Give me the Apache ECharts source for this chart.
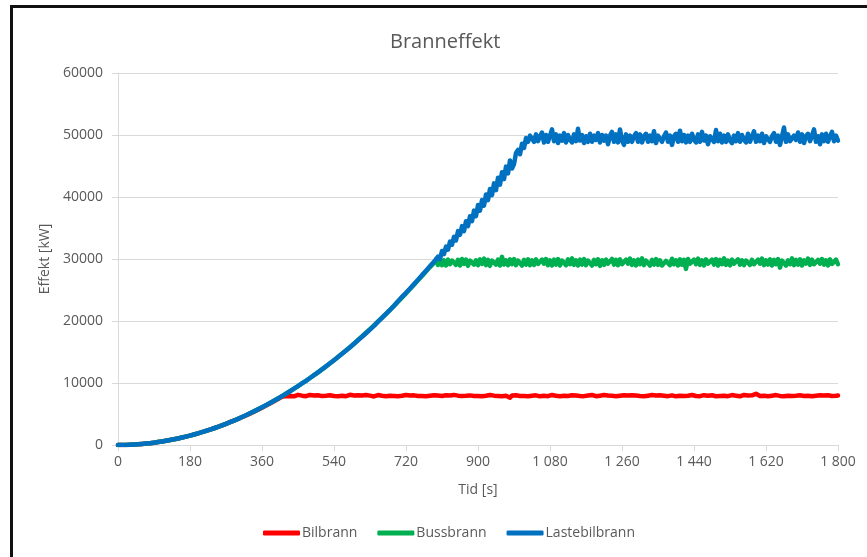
<!DOCTYPE html>
<html>
<head>
<meta charset="utf-8">
<title>Branneffekt</title>
<script src="https://cdn.jsdelivr.net/npm/echarts@6/dist/echarts.min.js"></script>
<style>
  html, body { margin: 0; padding: 0; background: #ffffff; }
  #wrap { position: relative; width: 867px; height: 557px; overflow: hidden; }
  #chart { position: absolute; left: 0; top: 0; width: 867px; height: 557px; }
  #frame {
    position: absolute; left: 10px; top: 5px; width: 900px; height: 600px;
    border-left: 3px solid #111; border-top: 3px solid #111; pointer-events: none;
  }
</style>
</head>
<body>
<div id="wrap">
  <div id="chart"></div>
  <div id="frame"></div>
</div>
<script>
// Sample times [s]
const timeS = [
  0, 5, 10, 15, 20, 25, 30, 35, 40, 45, 50, 55, 60, 65, 70, 75, 80, 85, 90, 95,
  100, 105, 110, 115, 120, 125, 130, 135, 140, 145, 150, 155, 160, 165, 170, 175, 180, 185, 190, 195,
  200, 205, 210, 215, 220, 225, 230, 235, 240, 245, 250, 255, 260, 265, 270, 275, 280, 285, 290, 295,
  300, 305, 310, 315, 320, 325, 330, 335, 340, 345, 350, 355, 360, 365, 370, 375, 380, 385, 390, 395,
  400, 405, 410, 415, 420, 425, 430, 435, 440, 445, 450, 455, 460, 465, 470, 475, 480, 485, 490, 495,
  500, 505, 510, 515, 520, 525, 530, 535, 540, 545, 550, 555, 560, 565, 570, 575, 580, 585, 590, 595,
  600, 605, 610, 615, 620, 625, 630, 635, 640, 645, 650, 655, 660, 665, 670, 675, 680, 685, 690, 695,
  700, 705, 710, 715, 720, 725, 730, 735, 740, 745, 750, 755, 760, 765, 770, 775, 780, 785, 790, 795,
  800, 805, 810, 815, 820, 825, 830, 835, 840, 845, 850, 855, 860, 865, 870, 875, 880, 885, 890, 895,
  900, 905, 910, 915, 920, 925, 930, 935, 940, 945, 950, 955, 960, 965, 970, 975, 980, 985, 990, 995,
  1000, 1005, 1010, 1015, 1020, 1025, 1030, 1035, 1040, 1045, 1050, 1055, 1060, 1065, 1070, 1075, 1080, 1085, 1090, 1095,
  1100, 1105, 1110, 1115, 1120, 1125, 1130, 1135, 1140, 1145, 1150, 1155, 1160, 1165, 1170, 1175, 1180, 1185, 1190, 1195,
  1200, 1205, 1210, 1215, 1220, 1225, 1230, 1235, 1240, 1245, 1250, 1255, 1260, 1265, 1270, 1275, 1280, 1285, 1290, 1295,
  1300, 1305, 1310, 1315, 1320, 1325, 1330, 1335, 1340, 1345, 1350, 1355, 1360, 1365, 1370, 1375, 1380, 1385, 1390, 1395,
  1400, 1405, 1410, 1415, 1420, 1425, 1430, 1435, 1440, 1445, 1450, 1455, 1460, 1465, 1470, 1475, 1480, 1485, 1490, 1495,
  1500, 1505, 1510, 1515, 1520, 1525, 1530, 1535, 1540, 1545, 1550, 1555, 1560, 1565, 1570, 1575, 1580, 1585, 1590, 1595,
  1600, 1605, 1610, 1615, 1620, 1625, 1630, 1635, 1640, 1645, 1650, 1655, 1660, 1665, 1670, 1675, 1680, 1685, 1690, 1695,
  1700, 1705, 1710, 1715, 1720, 1725, 1730, 1735, 1740, 1745, 1750, 1755, 1760, 1765, 1770, 1775, 1780, 1785, 1790, 1795,
  1800
];

// Bilbrann heat release rate [kW]
const bilbrannKW = [
  0, 1, 5, 11, 19, 29, 42, 57, 75, 95,
  117, 142, 169, 198, 230, 264, 300, 339, 380, 423,
  469, 517, 567, 620, 675, 733, 793, 855, 919, 986,
  1055, 1127, 1201, 1277, 1355, 1436, 1520, 1605, 1693, 1783,
  1876, 1971, 2068, 2168, 2270, 2374, 2481, 2590, 2701, 2815,
  2931, 3050, 3170, 3294, 3419, 3547, 3677, 3810, 3944, 4081,
  4190, 4380, 4470, 4680, 4760, 4980, 5060, 5290, 5370, 5610,
  5690, 5930, 6020, 6270, 6360, 6610, 6700, 6970, 7060, 7330,
  7430, 7680, 7780,
  7990, 7880, 8060, 7920, 8010, 7850, 7970, 8090, 7900, 7960,
  8030, 7870, 7940, 8080, 7910, 7990, 7840, 8020, 7950, 7890,
  8070, 7930, 7860, 8010, 7960, 7900, 8050, 7880, 7990, 7930,
  8040, 7870, 7950, 8100, 7920, 7980, 7860, 8030, 7910, 7990,
  7940, 8060, 7890, 7960, 8020, 7830, 7970, 8050, 7900, 7940,
  8010, 7880, 7560, 7960, 8040, 7910, 7990, 7860, 8030, 7940,
  7900, 8070, 7930, 7980, 7850, 8010, 7960, 7890, 8050, 7920,
  7980, 7870, 8040, 7950, 7900, 8020, 7860, 7970, 8060, 7910,
  7950, 8030, 7880, 7990, 7920, 8080, 7860, 7960, 8010, 7900,
  8040, 7930, 7870, 8000, 7950, 7890, 8060, 7920, 7980, 7850,
  8010, 7940, 7900, 8070, 7880, 7960, 8030, 7910, 7990, 7870,
  8050, 7930, 7960, 7620, 7990, 7880, 8020, 7950, 7900, 8060,
  7920, 7980, 7860, 8030, 7940, 7890, 8010, 7970, 7850, 8040,
  7930, 8000, 7880, 7960, 8070, 7910, 7950, 8020, 7870, 7990,
  7940, 8050, 7900, 7960, 8010, 7860, 7980, 8040, 7920, 7950,
  7880, 8030, 7970, 7900, 8060, 7940, 7870, 8000, 7960, 7910,
  8050, 7890, 7980, 8230, 7930, 7960, 7870, 8020, 7950, 7900,
  8040, 7920, 7990, 7860, 8010, 7940, 7970, 8080, 7900, 7950,
  7880, 8030, 7960, 7910, 8050, 7870, 7990, 7940, 8020, 7900,
  7960, 8060, 7880, 7970, 8010, 7920, 7850, 8040, 7950, 7990,
  7900, 8030, 7940, 7870, 8070, 7960, 7910, 8000, 7880, 7980,
  8040, 7930, 7960, 7890, 8020, 7950, 7870, 8060, 7920, 7990,
  7940, 8010, 7880, 7970, 8050, 7900, 7960, 8030, 7860, 7950,
  8080, 7920, 7990, 7870, 8020, 7940, 8260, 7960, 7900, 8040,
  7930, 7980, 7860, 8010, 7950, 7890, 8050, 7970, 7920, 8000,
  7870, 8060, 7940, 7990, 7900, 8030, 7950, 7880, 8020, 7960,
  7910, 8070, 7940, 7980, 7860, 8010, 7950, 7900, 8040, 7930,
  7990, 7870, 8030, 7950, 7910, 8060, 7940, 7980
];

// Bussbrann heat release rate [kW]
const bussbrannKW = [
  0, 1, 5, 11, 19, 29, 42, 57, 75, 95,
  117, 142, 169, 198, 230, 264, 300, 339, 380, 423,
  469, 517, 567, 620, 675, 733, 793, 855, 919, 986,
  1055, 1127, 1201, 1277, 1355, 1436, 1520, 1605, 1693, 1783,
  1876, 1971, 2068, 2168, 2270, 2374, 2481, 2590, 2701, 2815,
  2931, 3050, 3170, 3294, 3419, 3547, 3677, 3810, 3944, 4081,
  4221, 4363, 4507, 4654, 4803, 4954, 5107, 5263, 5422, 5582,
  5745, 5911, 6078, 6248, 6421, 6595, 6772, 6952, 7134, 7318,
  7504, 7693, 7884, 8077, 8273, 8471, 8672, 8874, 9080, 9287,
  9497, 9709, 9924, 10141, 10360, 10582, 10806, 11032, 11261, 11492,
  11725, 11961, 12199, 12439, 12682, 12927, 13174, 13424, 13676, 13930,
  14187, 14446, 14708, 14972, 15238, 15507, 15777, 16051, 16326, 16604,
  16950, 17100, 17520, 17680, 18110, 18250, 18700, 18840, 19300, 19430,
  19900, 20040, 20530, 20660, 21160, 21280, 21800, 21900, 22450, 22550,
  23120, 23200, 23780, 23850, 24460, 24520, 25150, 25200, 25850, 25900,
  26560, 26600, 27250, 27300, 27980, 28050, 28700, 28750, 29350,
  29900, 29050, 29950, 29000, 29800, 28950, 29900, 29150, 29750, 30050,
  29050, 29850, 28950, 30000, 29200, 29900, 28900, 29750, 29950, 29100,
  29800, 29000, 29950, 29200, 30050, 29000, 29850, 28900, 29750, 29950,
  29100, 29900, 28950, 30350, 29100, 29800, 29000, 29950, 29150, 30000,
  29000, 29750, 29900, 28950, 29850, 29100, 29950, 29000, 29800, 29050,
  29950, 29200, 28900, 29900, 29250, 30000, 29000, 29800, 28950, 29900,
  29100, 30000, 28950, 29750, 29850, 29000, 29950, 29150, 30100, 29050,
  29800, 28950, 29900, 29100, 30000, 29000, 29750, 29950, 28950, 29850,
  29150, 29950, 28900, 29800, 29050, 29900, 29250, 28950, 30000, 29100,
  29850, 29000, 29950, 29150, 28950, 29900, 29250, 30050, 29050, 29800,
  28950, 29900, 29150, 30100, 29000, 29750, 29950, 28950, 29850, 29100,
  30000, 29050, 29800, 28950, 29000, 29700, 29900, 29000, 30050, 29150,
  29800, 28950, 29950, 29100, 29850, 28400, 30000, 29250, 28950, 29900,
  29150, 30050, 29050, 29800, 28950, 29950, 29250, 29000, 29900, 29100,
  30000, 28950, 29850, 29150, 30100, 29050, 29750, 28950, 29900, 29250,
  29000, 29950, 29100, 29800, 29000, 29750, 30000, 29050, 29850, 29150,
  28950, 29900, 29250, 30050, 29000, 29800, 29100, 29950, 28950, 29850,
  29150, 30000, 28600, 29750, 29900, 28950, 29800, 29150, 30100, 29000,
  29850, 29100, 29950, 28950, 29800, 29250, 30050, 29050, 29900, 29150,
  29000, 29850, 29250, 30000, 29100, 29800, 28950, 29950, 29200, 29050,
  29900, 29150
];

// Lastebilbrann heat release rate [kW]
const lastebilbrannKW = [
  0, 1, 5, 11, 19, 29, 42, 57, 75, 95,
  117, 142, 169, 198, 230, 264, 300, 339, 380, 423,
  469, 517, 567, 620, 675, 733, 793, 855, 919, 986,
  1055, 1127, 1201, 1277, 1355, 1436, 1520, 1605, 1693, 1783,
  1876, 1971, 2068, 2168, 2270, 2374, 2481, 2590, 2701, 2815,
  2931, 3050, 3170, 3294, 3419, 3547, 3677, 3810, 3944, 4081,
  4221, 4363, 4507, 4654, 4803, 4954, 5107, 5263, 5422, 5582,
  5745, 5911, 6078, 6248, 6421, 6595, 6772, 6952, 7134, 7318,
  7504, 7693, 7884, 8077, 8273, 8471, 8672, 8874, 9080, 9287,
  9497, 9709, 9924, 10141, 10360, 10582, 10806, 11032, 11261, 11492,
  11725, 11961, 12199, 12439, 12682, 12927, 13174, 13424, 13676, 13930,
  14187, 14446, 14708, 14972, 15238, 15507, 15777, 16051, 16326, 16604,
  16884, 17167, 17451, 17739, 18028, 18320, 18614, 18911, 19210, 19512,
  19900, 20050, 20520, 20680, 21150, 21300, 21780, 21950, 22450, 22580,
  23200, 23100, 23900, 23750, 24550, 24400, 25250, 25100, 25950, 25750,
  26650, 26450, 27400, 27200, 28100, 27900, 28850, 28650, 29550, 29400,
  30400, 30000, 31300, 30800, 32000, 31500, 32800, 32300, 33600, 33000,
  34500, 33900, 35300, 34500, 36100, 35300, 36900, 36100, 37800, 36900,
  38700, 37800, 39500, 38600, 40400, 39500, 41300, 40300, 42200, 41100,
  43100, 42000, 44000, 42900, 44900, 43800, 45900, 44600, 45300, 47100,
  47600, 46900, 48600, 47900, 49500, 48900, 49900,
  49900, 48900, 50100, 49000, 49800, 50400, 48800, 50000, 48900, 49900,
  50900, 49000, 50100, 48700, 49900, 49100, 50300, 48800, 50000, 49200,
  48800, 50100, 49000, 51000, 49100, 50000, 48700, 49800, 48900, 50200,
  48900, 49900, 49200, 50300, 48800, 50000, 49100, 49900, 48500, 49900,
  50500, 48900, 50100, 48800, 50900, 49100, 48400, 50100, 48900, 49900,
  48900, 49800, 50300, 48900, 50100, 48800, 49800, 50200, 48900, 49900,
  49000, 50600, 48700, 49900, 50000, 48900, 49800, 50400, 48900, 49900,
  48400, 49800, 50200, 48900, 50700, 49000, 50000, 48800, 49900, 48900,
  50200, 49200, 48800, 50100, 48900, 50500, 49100, 49900, 48500, 49800,
  50100, 48900, 50800, 49000, 50200, 48800, 49900, 48900, 50100, 49100,
  48700, 49900, 49000, 50300, 48900, 50000, 49200, 48800, 50200, 48900,
  49800, 50600, 48900, 49900, 49000, 50200, 48700, 49800, 50100, 48900,
  49800, 50300, 48900, 49900, 48400, 49800, 51200, 48900, 50100, 49000,
  48800, 49900, 49200, 50400, 48900, 50100, 48700, 49800, 50200, 49000,
  49900, 50900, 48900, 49800, 48500, 50100, 49000, 50200, 48900, 49800,
  50500, 49000, 49900, 49100
];

const seriesNames = ['Bilbrann', 'Bussbrann', 'Lastebilbrann'];
const seriesColors = ['#ff0000', '#00b050', '#0070c0'];
const seriesValues = [bilbrannKW, bussbrannKW, lastebilbrannKW];

const textGrey = '#595959';
const gridGrey = '#d9d9d9';
const fontFamily = '"Open Sans", "Liberation Sans", sans-serif';

// Thousands grouped with a space, as in "1 080"
function spaced(v) {
  return String(v).replace(/\B(?=(\d{3})+(?!\d))/g, ' ');
}

const chart = echarts.init(document.getElementById('chart'), null, { renderer: 'canvas' });

chart.setOption({
  animation: false,
  backgroundColor: '#ffffff',
  title: {
    text: 'Branneffekt',
    left: 385,
    top: 27,
    textStyle: { color: textGrey, fontFamily: fontFamily, fontSize: 20, fontWeight: 'normal' }
  },
  legend: {
    bottom: 12,
    left: 258,
    icon: 'roundRect',
    itemWidth: 37,
    itemHeight: 5,
    itemGap: 20,
    data: seriesNames,
    textStyle: { color: textGrey, fontFamily: fontFamily, fontSize: 14, padding: [0, 0, 0, -3] }
  },
  grid: { left: 118, right: 29, top: 73, bottom: 112, containLabel: false },
  xAxis: {
    type: 'value',
    min: 0,
    max: 1800,
    interval: 180,
    name: 'Tid [s]',
    nameLocation: 'middle',
    nameGap: 38,
    nameTextStyle: { color: textGrey, fontFamily: fontFamily, fontSize: 14 },
    axisLine: { show: true, onZero: false, lineStyle: { color: gridGrey, width: 1 } },
    axisTick: { show: true, length: 6, lineStyle: { color: gridGrey } },
    splitLine: { show: false },
    axisLabel: {
      color: textGrey, fontFamily: fontFamily, fontSize: 14, margin: 10,
      formatter: spaced
    }
  },
  yAxis: {
    type: 'value',
    min: 0,
    max: 60000,
    interval: 10000,
    name: 'Effekt [kW]',
    nameLocation: 'middle',
    nameGap: 52,
    nameTextStyle: { color: textGrey, fontFamily: fontFamily, fontSize: 14 },
    axisLine: { show: true, lineStyle: { color: gridGrey, width: 1 } },
    axisTick: { show: true, length: 6, lineStyle: { color: gridGrey } },
    splitLine: { show: true, lineStyle: { color: gridGrey, width: 1 } },
    axisLabel: {
      color: textGrey, fontFamily: fontFamily, fontSize: 14, margin: 15,
      formatter: function (v) { return String(v); }
    }
  },
  series: seriesNames.map(function (name, k) {
    return {
      name: name,
      type: 'line',
      showSymbol: false,
      symbol: 'none',
      color: seriesColors[k],
      lineStyle: { width: 4.5, color: seriesColors[k], cap: 'round', join: 'round' },
      data: timeS.map(function (t, i) { return [t, seriesValues[k][i]]; })
    };
  })
});
</script>
</body>
</html>
